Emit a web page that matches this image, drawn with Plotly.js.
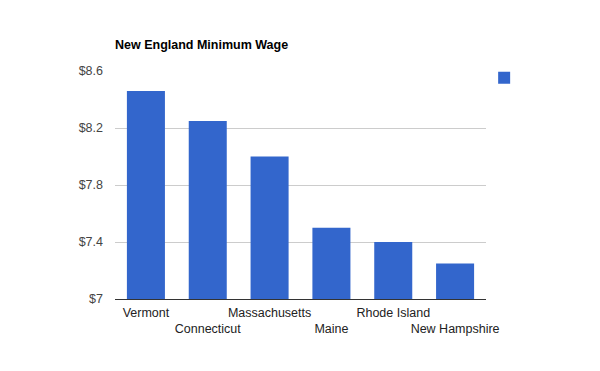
<!DOCTYPE html>
<html>
<head>
<meta charset="utf-8">
<script src="https://cdn.plot.ly/plotly-3.0.1.min.js"></script>
<style>html,body{margin:0;padding:0;background:#fff}#chart{width:600px;height:371px}</style>
</head>
<body>
<div id="chart"></div>
<script>
const states = ["Vermont", "Connecticut", "Massachusetts", "Maine", "Rhode Island", "New Hampshire"];
const wages = [8.46, 8.25, 8.00, 7.50, 7.40, 7.25];
const yTicks = [7, 7.4, 7.8, 8.2, 8.6];
const yTickLabels = ["$7", "$7.4", "$7.8", "$8.2", "$8.6"];
const seriesName = "";
const chartTitle = "New England Minimum Wage";

// staggered tick labels: every second one moves to a second line
const xTickText = states.map((s, i) => (i % 2 === 1 ? "<br>" + s : s));

const trace = {
  type: "bar",
  x: states,
  y: wages,
  name: seriesName,
  marker: { color: "#3366cc" },
  showlegend: true,
  hoverinfo: "x+y"
};

const layout = {
  width: 600,
  height: 371,
  margin: { l: 115, r: 114, t: 71, b: 72 },
  paper_bgcolor: "#ffffff",
  plot_bgcolor: "#ffffff",
  font: { family: "Liberation Sans, Arial, sans-serif", size: 12.5, color: "#222222" },
  title: {
    text: "<b>" + chartTitle + "</b>",
    font: { family: "Liberation Sans, Arial, sans-serif", size: 12.5, color: "#000000" },
    x: 115 / 600,
    xanchor: "left",
    xref: "container",
    y: 1 - 40 / 371,
    yanchor: "top",
    yref: "container"
  },
  bargap: 0.385,
  xaxis: {
    tickmode: "array",
    tickvals: states,
    ticktext: xTickText,
    tickangle: 0,
    showline: true,
    linecolor: "#333333",
    linewidth: 1,
    ticks: "",
    ticklabelstandoff: 2,
    showgrid: false,
    tickfont: { color: "#222222", size: 12.5 },
    fixedrange: true
  },
  yaxis: {
    range: [7, 8.6],
    tickmode: "array",
    tickvals: yTicks,
    ticktext: yTickLabels,
    showgrid: true,
    gridcolor: "#cccccc",
    gridwidth: 1,
    zeroline: false,
    showline: false,
    ticks: "",
    ticklabelstandoff: 11,
    tickfont: { color: "#444444", size: 12.5 },
    fixedrange: true
  },
  showlegend: true,
  legend: {
    x: 0.995,
    xanchor: "left",
    y: 1.035,
    yanchor: "top",
    font: { size: 12.5 },
    bgcolor: "rgba(0,0,0,0)"
  }
};

Plotly.newPlot("chart", [trace], layout, { displayModeBar: false, staticPlot: true });
</script>
</body>
</html>
